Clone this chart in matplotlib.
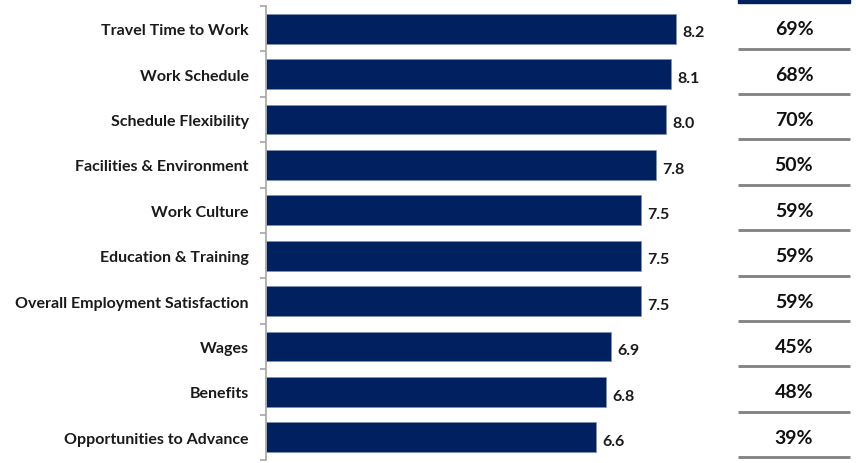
import matplotlib
matplotlib.use("Agg")
import matplotlib.pyplot as plt
from matplotlib.patches import Rectangle

categories = ["Travel Time to Work", "Work Schedule", "Schedule Flexibility",
              "Facilities & Environment", "Work Culture", "Education & Training",
              "Overall Employment Satisfaction", "Wages", "Benefits",
              "Opportunities to Advance"]
scores = [8.2, 8.1, 8.0, 7.8, 7.5, 7.5, 7.5, 6.9, 6.8, 6.6]
percents = ["69%", "68%", "70%", "50%", "59%", "59%", "59%", "45%", "48%", "39%"]

NAVY = "#002060"
W, H = 856, 464
plt.rcParams['font.family'] = ['Lato', 'DejaVu Sans']

fig = plt.figure(figsize=(W / 100, H / 100), dpi=100)

# main bar axes: x from 266 px, y rows from 7 to 461 px
top_px, bot_px = 7, 461
ax = fig.add_axes([266 / W, (H - bot_px) / H, (736 - 266) / W, (bot_px - top_px) / H])
n = len(categories)
ypos = list(range(n))
ax.barh(ypos, scores, height=0.66, color=NAVY, edgecolor="#8090b0", linewidth=0.5)
ax.set_xlim(0, (736 - 266) / 50)
ax.set_ylim(n - 0.5, -0.5)
for y, v in zip(ypos, scores):
    ax.text(v + 0.13, y + 0.08, f"{v:.1f}", va="center", ha="left",
            fontsize=11.5, fontweight="bold", color="#1a1a1a")

ax.set_yticks(ypos)
ax.set_yticklabels(categories, fontsize=11.5, fontweight="bold", color="#1a1a1a")
ax.tick_params(axis="y", which="major", length=0, pad=12.5)
ax.set_yticks([i - 0.5 for i in range(n + 1)], minor=True)
ax.tick_params(axis="y", which="minor", length=4, color="#A6A6A6", width=1.2)
ax.set_xticks([])
for s in ["top", "right", "bottom"]:
    ax.spines[s].set_visible(False)
ax.spines["left"].set_color("#A6A6A6")
ax.spines["left"].set_linewidth(1.2)

# right-hand table column
tx0, tx1 = 738, 850
tab = fig.add_axes([tx0 / W, (H - bot_px) / H, (tx1 - tx0) / W, (bot_px - top_px) / H])
tab.set_xlim(0, 1)
tab.set_ylim(n - 0.5, -0.5)
tab.axis("off")
for y, p in zip(ypos, percents):
    tab.text(0.5, y, p, ha="center", va="center", fontsize=14,
             fontweight="bold", color="#111111")
    tab.plot([0, 1], [y + 0.44, y + 0.44], color="#808080", lw=2,
             solid_capstyle="butt", clip_on=False)

fig.patches.append(Rectangle((tx0 / W, (H - 4) / H), (tx1 - tx0) / W, 4 / H,
                             transform=fig.transFigure, color=NAVY, zorder=5))

fig.savefig("out.png", dpi=100)
